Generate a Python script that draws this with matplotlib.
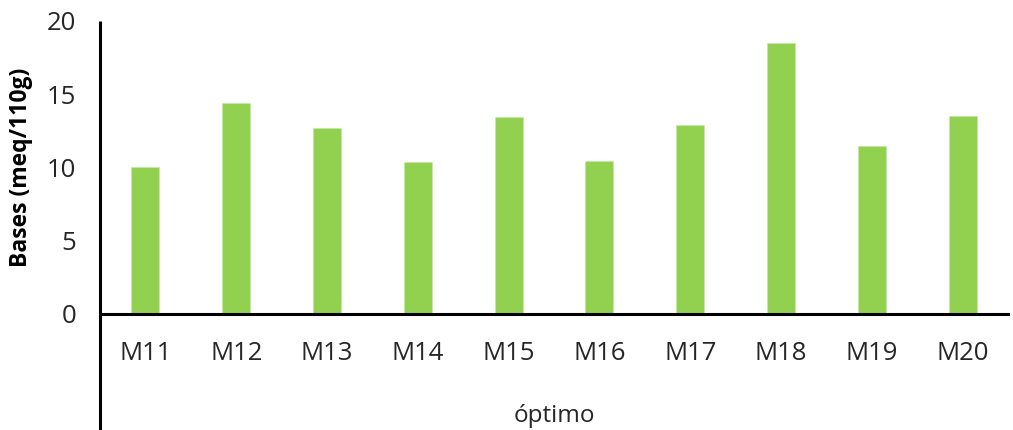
import matplotlib.pyplot as plt
import numpy as np

muestras = ['M11', 'M12', 'M13', 'M14', 'M15', 'M16', 'M17', 'M18', 'M19', 'M20']
bases = [10.0, 14.4, 12.66, 10.34, 13.41, 10.45, 12.87, 18.5, 11.43, 13.53]

plt.rcParams['font.family'] = ['Open Sans', 'DejaVu Sans']

fig = plt.figure(figsize=(10.13, 4.30), dpi=100)
ax = fig.add_axes([100/1013, 116.5/430, 908/1013, 292.5/430])

x = np.arange(len(muestras))
ax.bar(x, bases, width=0.31, color='#92D050', edgecolor='#C6E9A6', linewidth=0.6, zorder=2)

ax.set_xlim(-0.5, len(muestras) - 0.5)
ax.set_ylim(0, 20)
ax.set_yticks([0, 5, 10, 15, 20])
ax.set_xticks(x)
ax.set_xticklabels(muestras)

ax.tick_params(axis='both', length=0, labelsize=18.5, colors='#262626')
ax.tick_params(axis='y', pad=17)
ax.tick_params(axis='x', pad=20)

for s in ['top', 'right', 'left']:
    ax.spines[s].set_visible(False)
ax.spines['bottom'].set_linewidth(2.2)
ax.spines['bottom'].set_color('black')

# eje vertical que baja hasta el borde, por debajo de las etiquetas
ax.plot([0, 0], [-0.41, 1], transform=ax.transAxes, color='black', lw=2.2,
        clip_on=False, solid_capstyle='butt', zorder=3)

ax.set_ylabel('Bases (meq/110g)', fontsize=16.5, fontweight='bold', color='black', labelpad=10)
ax.set_xlabel('óptimo', fontsize=17.5, color='#262626', labelpad=27)

fig.savefig('out.png', dpi=100)
